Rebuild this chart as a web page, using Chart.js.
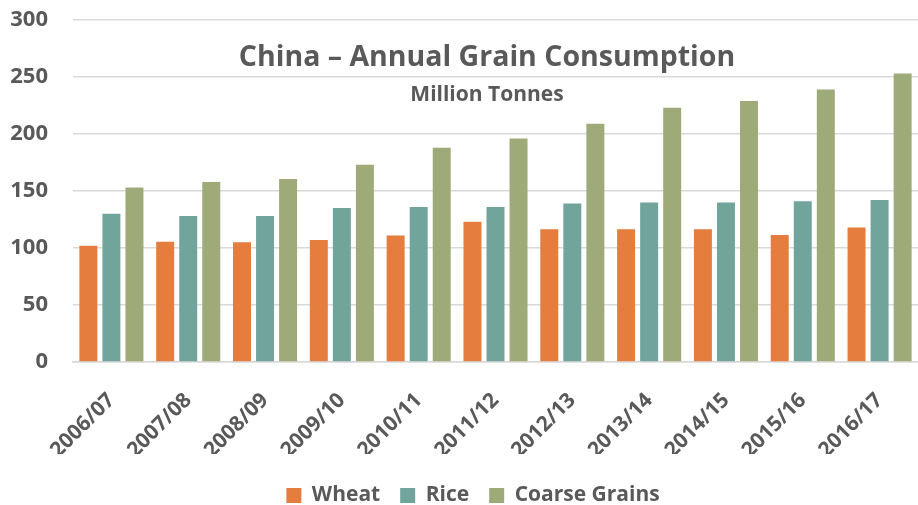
<!DOCTYPE html>
<html>
<head>
<meta charset="utf-8">
<script src="https://cdn.jsdelivr.net/npm/chart.js@4/dist/chart.umd.min.js"></script>
<style>
  html, body { margin: 0; padding: 0; background: #ffffff; }
  #wrap { width: 918px; height: 505px; position: relative; }
</style>
</head>
<body>
<div id="wrap"><canvas id="c" width="918" height="505"></canvas></div>
<script>
const categories = ["2006/07","2007/08","2008/09","2009/10","2010/11","2011/12","2012/13","2013/14","2014/15","2015/16","2016/17"];
const wheat  = [102, 105.5, 105, 107, 111, 123, 116.5, 116.5, 116.5, 111.5, 118];
const rice   = [130, 128, 128, 135, 136, 136, 139, 140, 140, 141, 142];
const coarse = [153, 158, 160.5, 173, 188, 196, 209, 223, 229, 239, 253];
const yTicks = [0, 50, 100, 150, 200, 250, 300];
const titleText = "China \u2013 Annual Grain Consumption";
const subtitleText = "Million Tonnes";

const FONT = "'Open Sans', Lato, sans-serif";
const GREY = "#595959";
const PLOT_LEFT = 73, PLOT_TOP = 20, PLOT_BOTTOM = 362;

const overlayTitle = {
  id: "overlayTitle",
  afterLayout(chart) {
    const lg = chart.legend;
    if (lg) {
      lg.top += 11; lg.bottom += 11;
      lg.left += 14; lg.right += 14;
    }
  },
  afterDraw(chart) {
    const ctx = chart.ctx;
    ctx.save();
    ctx.fillStyle = GREY;
    ctx.textAlign = "center";
    ctx.textBaseline = "middle";
    ctx.font = "bold 28.5px " + FONT;
    ctx.fillText(titleText, 487, 58);
    ctx.font = "bold 21px " + FONT;
    ctx.fillText(subtitleText, 487, 95);
    ctx.restore();
  }
};

new Chart(document.getElementById("c"), {
  type: "bar",
  data: {
    labels: categories,
    datasets: [
      { label: "Wheat", data: wheat, backgroundColor: "#E47D3D" },
      { label: "Rice", data: rice, backgroundColor: "#71A59B" },
      { label: "Coarse Grains", data: coarse, backgroundColor: "#9FAA79" }
    ]
  },
  options: {
    responsive: false,
    animation: false,
    devicePixelRatio: 1,
    layout: { padding: { left: 0, right: 0, top: PLOT_TOP, bottom: 0 } },
    datasets: { bar: { categoryPercentage: 0.9, barPercentage: 0.78 } },
    scales: {
      x: {
        grid: { display: false, drawTicks: false },
        border: { display: true, color: "#d9d9d9", width: 1.5 },
        ticks: {
          color: GREY,
          font: { family: FONT, size: 21, weight: "bold" },
          maxRotation: 45, minRotation: 45,
          padding: 26,
          autoSkip: false
        },
        afterFit(axis) {
          axis.paddingLeft = 0;
          axis.paddingRight = 0;
          const lh = axis.chart.legend ? axis.chart.legend.height : 30;
          axis.height = 505 - PLOT_BOTTOM - lh;
        }
      },
      y: {
        min: 0, max: 300,
        afterBuildTicks(axis) { axis.ticks = yTicks.map(v => ({ value: v })); },
        grid: { color: "#d9d9d9", lineWidth: 1.5, drawTicks: false },
        border: { display: false },
        ticks: {
          color: GREY,
          font: { family: FONT, size: 22, weight: "bold" },
          padding: 25
        },
        afterFit(axis) {
          axis.paddingTop = 0;
          axis.paddingBottom = 0;
          axis.width = PLOT_LEFT;
        }
      }
    },
    plugins: {
      legend: {
        position: "bottom",
        labels: {
          color: GREY,
          font: { family: FONT, size: 21, weight: "bold" },
          boxWidth: 15, boxHeight: 15,
          padding: 20
        }
      },
      title: { display: false },
      tooltip: { enabled: false }
    }
  },
  plugins: [overlayTitle]
});
</script>
</body>
</html>
